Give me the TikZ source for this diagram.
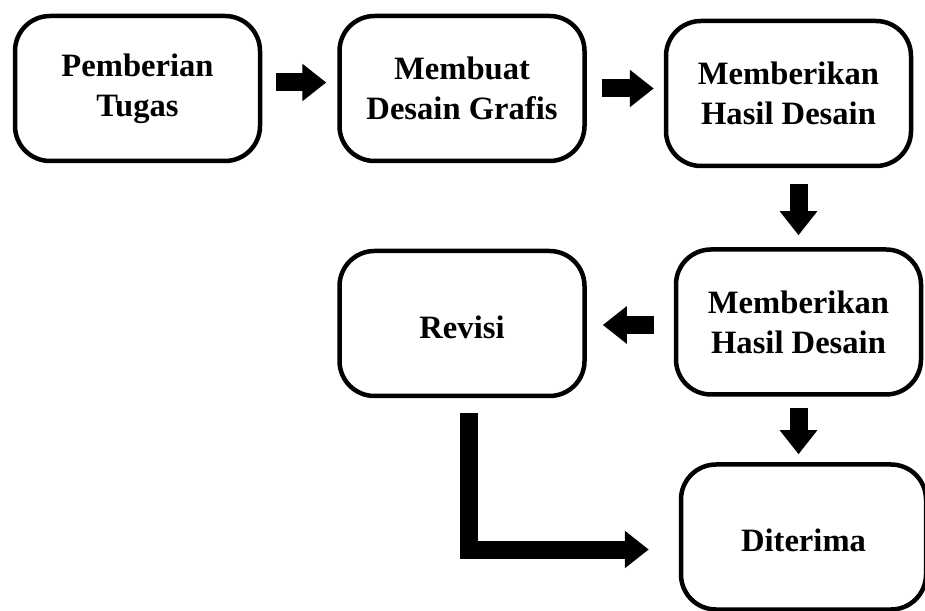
\documentclass[tikz,border=0pt]{standalone}
\usepackage{fontspec}
\setmainfont{Liberation Serif}
\usepackage{tikz}
\usetikzlibrary{arrows.meta}

\begin{document}
\begin{tikzpicture}[
		x=1pt,y=1pt,
		box/.style={draw,line width=4.5pt,rounded corners=35pt,minimum width=245pt,minimum height=145pt,align=center,font=\bfseries\fontsize{32.6}{40}\selectfont,execute at begin node={\rule{0pt}{30pt}}},
		blockarrow/.style={line width=18pt,-{Triangle[length=24pt,width=36pt]}}
		]
		\useasboundingbox (0,0) rectangle (925,610);
		\path (137.5,521.5) node[box] (tugas) {Pemberian\\Tugas}
		 ++(324.5,0) node[box] (grafis) {Membuat\\Desain Grafis}
		 ++(326.5,-5) node[box] (hasil) {Memberikan\\Hasil Desain};
		\path (462,286.5) node[box] (revisi) {Revisi}
		 ++(336.5,1.5) node[box] (hasil b) {Memberikan\\Hasil Desain}
		 ++(5,-215) node[box] (diterima) {Diterima};

		\draw[blockarrow,shorten <=14pt,shorten >=11pt] ([yshift=6pt]tugas.east) -- ([yshift=6pt]tugas.east -| grafis.west);
		\draw[blockarrow,shorten <=15pt,shorten >=10pt] (grafis.east) -- (grafis.east -| hasil.west);
		\draw[blockarrow,shorten <=16pt,shorten >=12pt] (hasil b.north |- hasil.south) -- (hasil b.north);
		\draw[blockarrow,shorten <=20pt,shorten >=16pt] ([yshift=-3pt]hasil b.west) -- ([yshift=-3pt]hasil b.west -| revisi.east);
		\draw[blockarrow,shorten <=11pt,shorten >=8pt] (hasil b.south) -- (hasil b.south |- diterima.north);
		\draw[blockarrow,shorten <=15pt,shorten >=30pt] ([xshift=7pt]revisi.south) |- ([yshift=-12.5pt]diterima.west);

	\end{tikzpicture}
\end{document}
